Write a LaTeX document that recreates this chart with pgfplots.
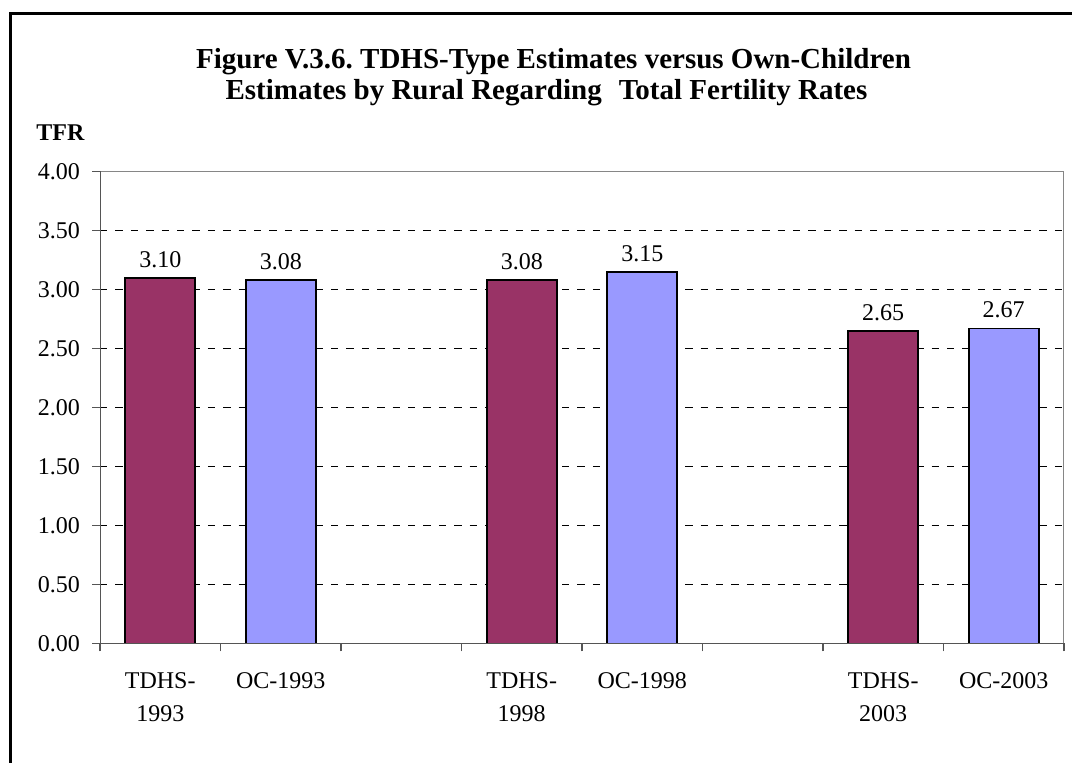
\documentclass[border=0pt]{standalone}
\usepackage{pgfplots}
\pgfplotsset{compat=1.18}
\usepackage{fontspec}
\setmainfont{Liberation Serif}
\frenchspacing
\definecolor{tdhs}{HTML}{993366}
\definecolor{oc}{HTML}{9999FF}
\definecolor{frameg}{HTML}{868686}
\definecolor{axisg}{HTML}{555555}
\begin{document}
\begin{tikzpicture}
\begin{scope}[x=0.5pt,y=-0.5pt]
\useasboundingbox (0,0) rectangle (1072,763);
\begin{scope}
\clip (0,0) rectangle (1072,763);
\draw[line width=1.5pt] (10,790) -- (10,14) -- (1072,14);
\end{scope}
\node[anchor=base, inner sep=0pt, font=\fontsize{14.5}{16}\selectfont\bfseries] at (553.5,68.3) {Figure V.3.6. TDHS-Type Estimates versus Own-Children};
\node[anchor=base, inner sep=0pt, font=\fontsize{14.5}{16}\selectfont\bfseries] at (546.5,100) {Estimates by Rural Regarding\hspace{8.5pt}Total Fertility Rates};
\node[anchor=base west, inner sep=0pt, font=\fontsize{12}{14}\selectfont\bfseries] at (36,140.7) {TFR};
\end{scope}
\begin{axis}[
  at={(50pt,-321.75pt)}, anchor=south west,
  scale only axis, width=482pt, height=236pt,
  xmin=-0.5, xmax=7.5, ymin=0, ymax=4,
  axis line style={draw=none},
  tick pos=left, tick align=outside,
  major tick length=4pt, minor tick length=4pt,
  tick style={axisg, line width=0.75pt},
  ytick={0,0.5,1,1.5,2,2.5,3,3.5,4},
  yticklabel style={font=\fontsize{12}{14}\selectfont, xshift=-2.5pt, /pgf/number format/.cd, fixed, fixed zerofill, precision=2, assume math mode=true},
  extra y ticks={0.5,1,1.5,2,2.5,3,3.5},
  extra y tick labels={},
  extra y tick style={ymajorgrids=true, major tick length=0pt},
  major grid style={black, line width=0.5pt, dash pattern=on 3.7pt off 4pt},
  xtick={0,1,3,4,6,7},
  xticklabels={{TDHS-\\1993},{OC-1993},{TDHS-\\1998},{OC-1998},{TDHS-\\2003},{OC-2003}},
  major x tick style={draw=none},
  minor xtick={-0.5,0.5,1.5,2.5,3.5,4.5,5.5,6.5,7.5},
  xticklabel style={align=center, font=\fontsize{12}{16.3}\selectfont, anchor=north, inner sep=0pt, yshift=-10.5pt},
  ybar, bar width=35pt,
  nodes near coords={\pgfmathprintnumber[fixed,fixed zerofill,precision=2,assume math mode=true]{\pgfplotspointmeta}},
  every node near coord/.append style={font=\fontsize{12}{14}\selectfont, inner sep=0pt, anchor=south, yshift=4.7pt, black},
]
\addplot[fill=tdhs, draw=black, line width=0.9pt, bar shift=0pt] coordinates {(0,3.10) (3,3.08) (6,2.65)};
\addplot[fill=oc, draw=black, line width=0.9pt, bar shift=0pt] coordinates {(1,3.08) (4,3.15) (7,2.67)};
\draw[frameg, line width=0.75pt] (rel axis cs:0,1) -- (rel axis cs:1,1) -- (rel axis cs:1,0);
\draw[axisg, line width=0.75pt] (rel axis cs:0,1) -- (rel axis cs:0,0) -- (rel axis cs:1,0);
\end{axis}
\end{tikzpicture}
\end{document}
